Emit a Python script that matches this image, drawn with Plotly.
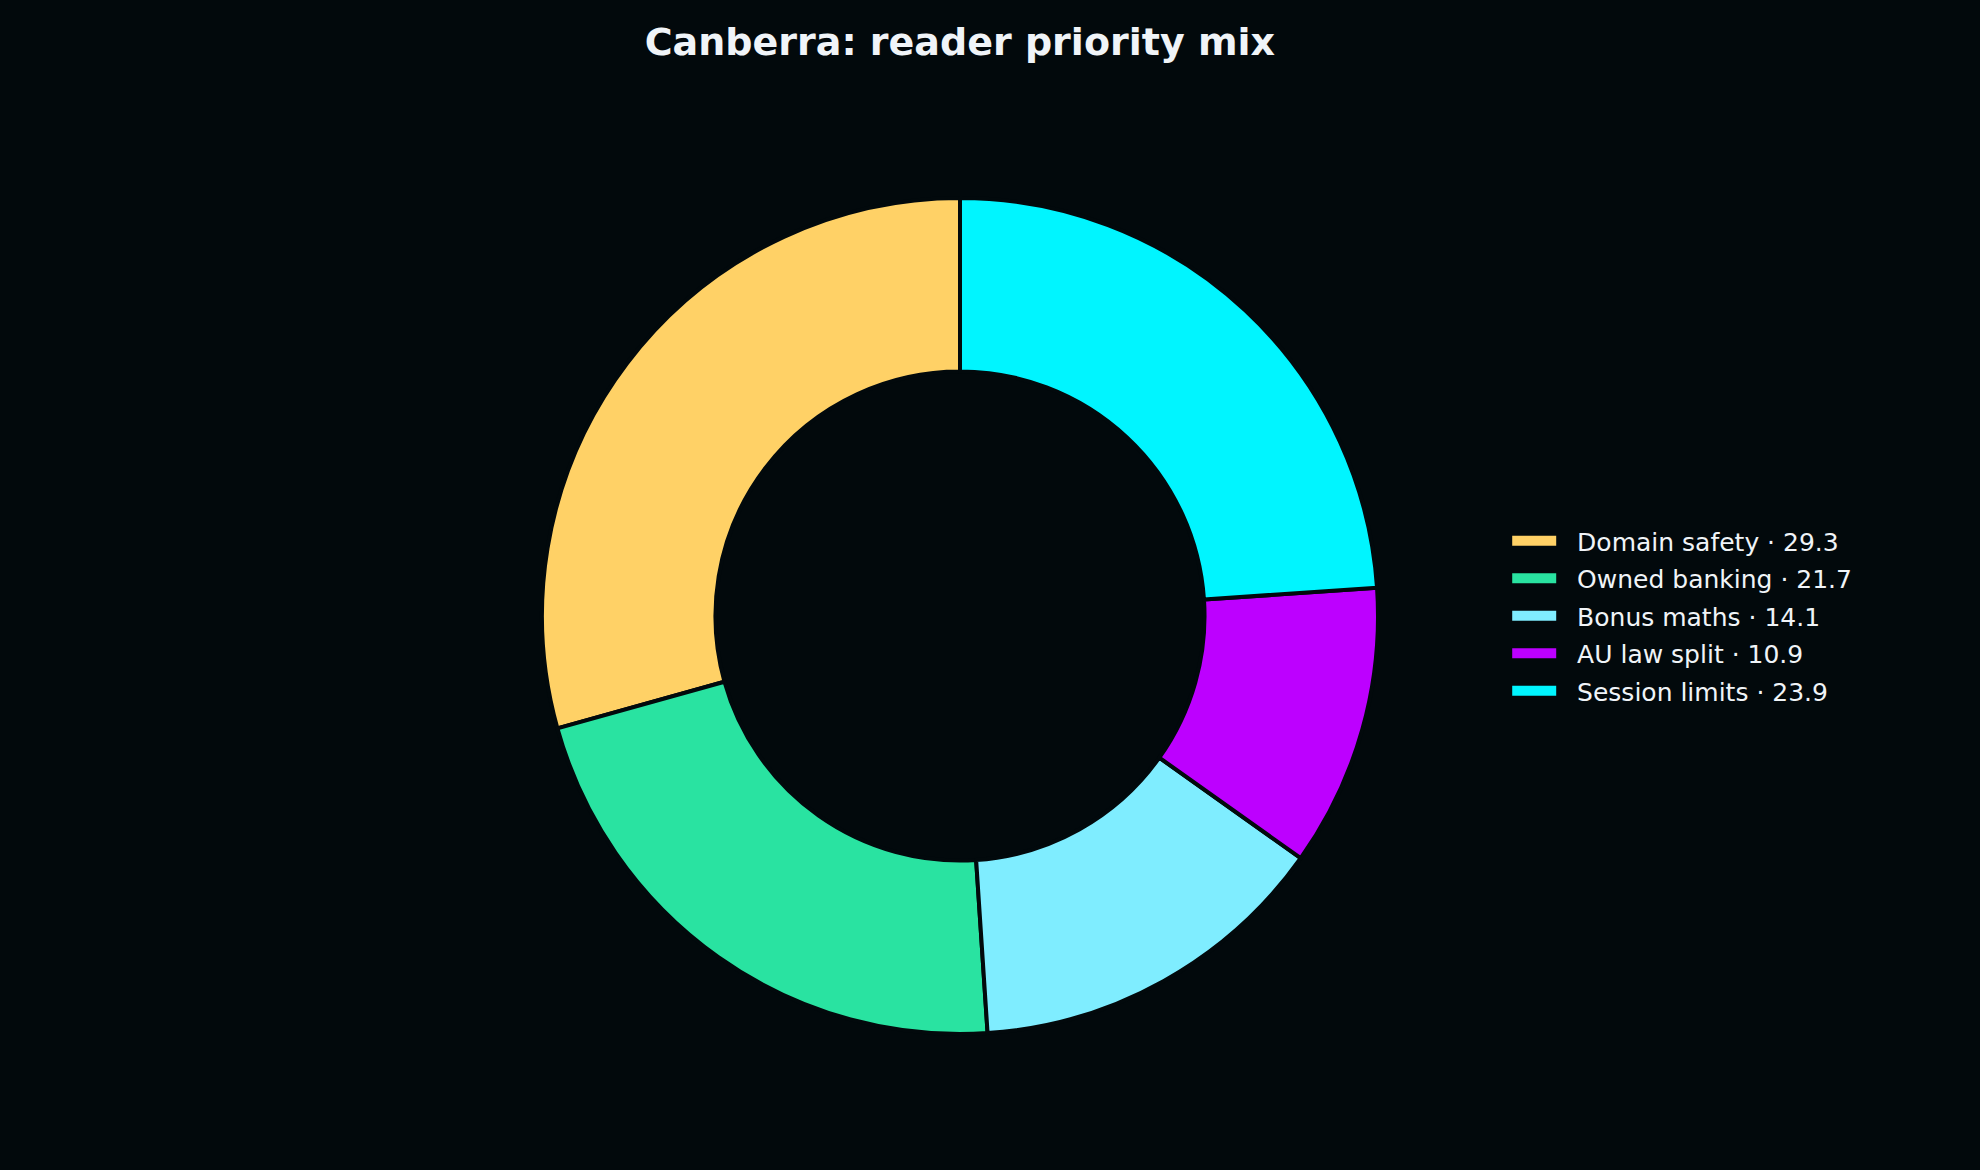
import plotly.graph_objects as go

# данные для кольцевой диаграммы
labels = ["Domain safety", "Owned banking", "Bonus maths", "AU law split", "Session limits"]
values = [29.3, 21.7, 14.1, 10.9, 23.9]
colors = ["#FFD166", "#29E3A1", "#7FEDFF", "#BD00FF", "#00F5FF"]

bg = "#02090C"

legendNames = [f"{lab} · {val}" for lab, val in zip(labels, values)]

# первый сектор должен начинаться на 12 часов и идти против часовой стрелки
startRotation = -360 * values[0] / sum(values)

fig = go.Figure()
fig.add_trace(go.Pie(
    labels=legendNames,
    values=values,
    hole=0.585,
    sort=False,
    direction="counterclockwise",
    rotation=startRotation,
    textinfo="none",
    hoverinfo="label+percent",
    showlegend=False,
    marker=dict(colors=colors, line=dict(color=bg, width=4)),
    domain=dict(x=[0, 1], y=[0, 1]),
))

# легенда с прямоугольными маркерами, как в оригинале
for name, col in zip(legendNames, colors):
    fig.add_trace(go.Scatter(
        x=[None], y=[None],
        mode="lines",
        name="\u00a0\u00a0" + name,
        legendgroup=name,
        line=dict(color=col, width=13),
        hoverinfo="skip",
    ))

fig.update_layout(
    width=1980,
    height=1170,
    paper_bgcolor=bg,
    plot_bgcolor=bg,
    margin=dict(l=60, r=120, t=198, b=136),
    font=dict(family="DejaVu Sans", color="#F0F4F8"),
    xaxis=dict(visible=False),
    yaxis=dict(visible=False),
    title=dict(
        text="<b>Canberra: reader priority mix</b>",
        x=0.4848,
        xanchor="center",
        y=0.964,
        yanchor="middle",
        font=dict(size=38, color="#F0F4F8", family="DejaVu Sans"),
    ),
    legend=dict(
        x=0.804,
        y=0.5,
        xanchor="left",
        yanchor="middle",
        bgcolor="rgba(0,0,0,0)",
        font=dict(size=25, color="#F0F4F8"),
        itemwidth=44,
        tracegroupgap=2,
    ),
)

fig.write_html("out.html", config={"displayModeBar": False},
               post_script="document.body.style.margin='0';")
